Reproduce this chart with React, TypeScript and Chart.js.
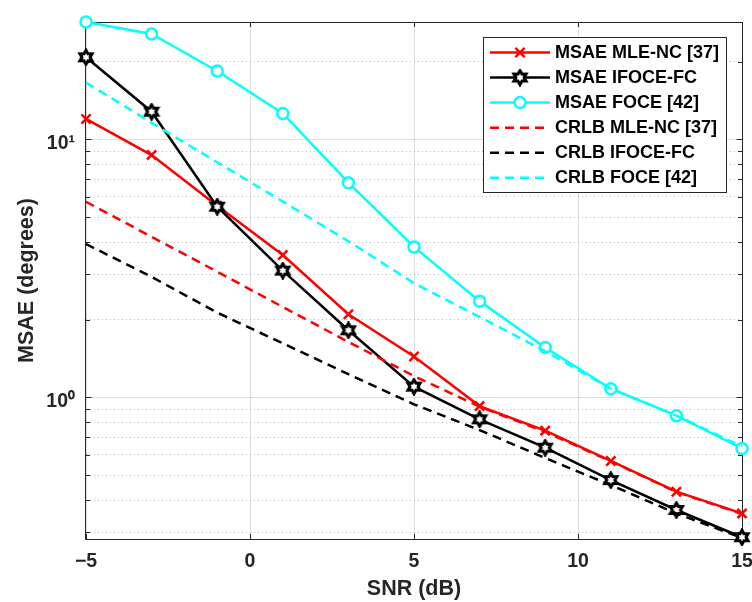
import React, { useEffect, useRef } from 'react';
import { Chart, registerables } from 'chart.js';

Chart.register(...registerables);

// ---------- data ----------
const SNR_DB = [-5, -3, -1, 1, 3, 5, 7, 9, 11, 13, 15];
const MSAE_MLE_NC = [12.0, 8.69, 5.53, 3.56, 2.1, 1.44, 0.925, 0.743, 0.567, 0.431, 0.355];
const MSAE_IFOCE_FC = [20.8, 12.8, 5.48, 3.1, 1.82, 1.1, 0.822, 0.638, 0.478, 0.366, 0.287];
const MSAE_FOCE = [28.5, 25.6, 18.4, 12.6, 6.79, 3.83, 2.36, 1.56, 1.08, 0.849, 0.634];
const CRLB_MLE_NC = [5.73, 4.19, 3.07, 2.24, 1.64, 1.21, 0.92, 0.735, 0.565, 0.43, 0.353];
const CRLB_IFOCE_FC = [3.93, 2.93, 2.13, 1.62, 1.23, 0.94, 0.747, 0.582, 0.457, 0.355, 0.285];
const CRLB_FOCE = [16.6, 11.6, 8.15, 5.74, 4.03, 2.77, 2.05, 1.51, 1.08, 0.85, 0.645];

const SERIES_LABELS = [
  'MSAE MLE-NC [37]',
  'MSAE IFOCE-FC',
  'MSAE FOCE [42]',
  'CRLB MLE-NC [37]',
  'CRLB IFOCE-FC',
  'CRLB FOCE [42]',
];

const X_MIN = -5;
const X_MAX = 15;
const X_TICKS = [-5, 0, 5, 10, 15];
const Y_MIN = 0.2825;
const Y_MAX = 28.5;
const Y_TICKS = [0.3, 0.4, 0.5, 0.6, 0.7, 0.8, 0.9, 1, 2, 3, 4, 5, 6, 7, 8, 9, 10, 20];
const Y_MAJOR = [1, 10];
const Y_MAJOR_LABELS = ['10\u2070', '10\u00b9'];

const X_TITLE = 'SNR (dB)';
const Y_TITLE = 'MSAE (degrees)';

// ---------- styles ----------
const FONT = "'Liberation Sans', Arial, Helvetica, sans-serif";
const AXIS_COLOR = '#262626';
const MAJOR_GRID = 'rgba(38,38,38,0.15)';
const MINOR_GRID = 'rgba(38,38,38,0.3)';
const RED = '#ff0000';
const BLACK = '#000000';
const CYAN = '#00ffff';

function makeHexagram(): HTMLCanvasElement {
  const c = document.createElement('canvas');
  c.width = 18;
  c.height = 18;
  const g = c.getContext('2d')!;
  const cx = 9, cy = 9, R = 7, r = 7 / Math.sqrt(3);
  g.beginPath();
  for (let i = 0; i < 12; i++) {
    const a = -Math.PI / 2 + (i * Math.PI) / 6;
    const rad = i % 2 === 0 ? R : r;
    const x = cx + rad * Math.cos(a);
    const y = cy + rad * Math.sin(a);
    if (i === 0) g.moveTo(x, y);
    else g.lineTo(x, y);
  }
  g.closePath();
  g.fillStyle = '#ffffff';
  g.fill();
  g.lineWidth = 3;
  g.lineJoin = 'miter';
  g.strokeStyle = BLACK;
  g.stroke();
  return c;
}

const isMajorY = (v: number) => Y_MAJOR.some((m) => Math.abs(m - v) < 1e-9);

const boxPlugin = {
  id: 'matlabBox',
  beforeDatasetsDraw(chart: any) {
    const { ctx, chartArea } = chart;
    const { left, right, top, bottom } = chartArea;
    const xs = chart.scales.x;
    const ys = chart.scales.y;
    ctx.save();
    ctx.strokeStyle = AXIS_COLOR;
    ctx.lineWidth = 1;
    ctx.beginPath();
    ctx.rect(Math.round(left) - 0.5, Math.round(top) + 0.5, Math.round(right - left) + 1, Math.round(bottom - top));
    ctx.stroke();
    ctx.beginPath();
    for (const v of X_TICKS) {
      const px = Math.round(xs.getPixelForValue(v)) + 0.5;
      ctx.moveTo(px, bottom);
      ctx.lineTo(px, bottom - 5);
      ctx.moveTo(px, top);
      ctx.lineTo(px, top + 5);
    }
    for (const v of Y_TICKS) {
      const py = Math.round(ys.getPixelForValue(v)) + 0.5;
      const len = isMajorY(v) ? 5.5 : 4;
      ctx.moveTo(left, py);
      ctx.lineTo(left + len, py);
      ctx.moveTo(right, py);
      ctx.lineTo(right - len, py);
    }
    ctx.stroke();
    ctx.restore();
  },
  afterDraw(chart: any) {
    const { ctx } = chart;
    const bx = 483.5, by = 37.5, bw = 243, bh = 155;
    ctx.save();
    ctx.fillStyle = '#ffffff';
    ctx.fillRect(bx, by, bw, bh);
    ctx.strokeStyle = AXIS_COLOR;
    ctx.lineWidth = 1;
    ctx.strokeRect(bx, by, bw, bh);
    chart.data.datasets.forEach((ds: any, i: number) => {
      const y = 52.5 + i * 25.05;
      const x0 = 490, x1 = 550, xm = 520;
      ctx.save();
      ctx.strokeStyle = ds.borderColor;
      ctx.lineWidth = ds.borderWidth;
      ctx.setLineDash(ds.borderDash || []);
      ctx.beginPath();
      ctx.moveTo(x0, y);
      ctx.lineTo(x1, y);
      ctx.stroke();
      ctx.setLineDash([]);
      if (ds.pointRadius > 0) {
        const ps = ds.pointStyle;
        if (ps instanceof HTMLCanvasElement) {
          ctx.drawImage(ps, xm - ps.width / 2, y - ps.height / 2);
        } else if (ps === 'circle') {
          ctx.beginPath();
          ctx.arc(xm, y, ds.pointRadius, 0, Math.PI * 2);
          ctx.fillStyle = ds.pointBackgroundColor;
          ctx.fill();
          ctx.lineWidth = ds.pointBorderWidth;
          ctx.strokeStyle = ds.pointBorderColor;
          ctx.stroke();
        } else if (ps === 'crossRot') {
          const d = ds.pointRadius * Math.SQRT1_2;
          ctx.beginPath();
          ctx.moveTo(xm - d, y - d);
          ctx.lineTo(xm + d, y + d);
          ctx.moveTo(xm - d, y + d);
          ctx.lineTo(xm + d, y - d);
          ctx.lineWidth = ds.pointBorderWidth;
          ctx.strokeStyle = ds.pointBorderColor;
          ctx.stroke();
        }
      }
      ctx.restore();
      ctx.fillStyle = '#000000';
      ctx.font = `bold 18px ${FONT}`;
      ctx.textBaseline = 'middle';
      ctx.textAlign = 'left';
      ctx.fillText(SERIES_LABELS[i], 555, y + 0.5);
    });
    ctx.restore();
  },
};

export default function App() {
  const ref = useRef<HTMLCanvasElement | null>(null);

  useEffect(() => {
    document.body.style.margin = '0';
    if (!ref.current) return;
    const hex = makeHexagram();
    const pts = (arr: number[]) => SNR_DB.map((x, i) => ({ x, y: arr[i] }));
    const solid = (label: string, arr: number[], color: string, extra: any) => ({
      label,
      data: pts(arr),
      borderColor: color,
      backgroundColor: color,
      borderWidth: 2.5,
      fill: false,
      tension: 0,
      clip: false,
      pointBorderColor: color,
      ...extra,
    });
    const dashed = (label: string, arr: number[], color: string) => ({
      label,
      data: pts(arr),
      borderColor: color,
      backgroundColor: color,
      borderWidth: 2.5,
      borderDash: [9, 6],
      fill: false,
      tension: 0,
      clip: false,
      pointRadius: 0,
      pointHoverRadius: 0,
    });
    const datasets: any[] = [
      solid(SERIES_LABELS[0], MSAE_MLE_NC, RED, {
        pointStyle: 'crossRot', pointRadius: 6.5, pointBorderWidth: 2.5, pointBackgroundColor: RED,
      }),
      solid(SERIES_LABELS[1], MSAE_IFOCE_FC, BLACK, {
        pointStyle: hex, pointRadius: 7, pointBorderWidth: 2, pointBackgroundColor: '#ffffff',
      }),
      solid(SERIES_LABELS[2], MSAE_FOCE, CYAN, {
        pointStyle: 'circle', pointRadius: 5.5, pointBorderWidth: 2.5, pointBackgroundColor: '#ffffff',
      }),
      dashed(SERIES_LABELS[3], CRLB_MLE_NC, RED),
      dashed(SERIES_LABELS[4], CRLB_IFOCE_FC, BLACK),
      dashed(SERIES_LABELS[5], CRLB_FOCE, CYAN),
    ];
    datasets.forEach((d, i) => (d.order = datasets.length - 1 - i));

    const tickFont = { family: FONT, size: 19.5, weight: 'bold' as const };
    const titleFont = { family: FONT, size: 21.5, weight: 'bold' as const };

    const chart = new Chart(ref.current, {
      type: 'line',
      data: { datasets },
      plugins: [boxPlugin],
      options: {
        responsive: false,
        animation: false,
        devicePixelRatio: 1,
        events: [],
        layout: { padding: { top: 22, right: 10, left: 0, bottom: 0 } },
        plugins: { legend: { display: false }, tooltip: { enabled: false } },
        scales: {
          x: {
            type: 'linear',
            min: X_MIN,
            max: X_MAX,
            afterBuildTicks: (s: any) => {
              s.ticks = X_TICKS.map((v) => ({ value: v }));
            },
            afterFit: (s: any) => {
              s.height = 63;
              s.paddingLeft = 0;
              s.paddingRight = 0;
            },
            grid: { color: MAJOR_GRID, lineWidth: 1, drawTicks: false },
            border: { display: false },
            ticks: {
              padding: 11,
              font: tickFont,
              color: AXIS_COLOR,
              maxRotation: 0,
              autoSkip: false,
              callback: (v: any) => (v < 0 ? '\u2212' + Math.abs(v) : String(v)),
            },
            title: {
              display: true,
              text: X_TITLE,
              font: titleFont,
              color: AXIS_COLOR,
              padding: { top: 0, bottom: 0 },
            },
          },
          y: {
            type: 'logarithmic',
            min: Y_MIN,
            max: Y_MAX,
            afterBuildTicks: (s: any) => {
              s.ticks = Y_TICKS.map((v) => ({ value: v, major: isMajorY(v) }));
            },
            afterFit: (s: any) => {
              s.width = 86;
              s.paddingTop = 0;
              s.paddingBottom = 0;
            },
            grid: {
              drawTicks: false,
              lineWidth: 1,
              color: (ctx: any) => (ctx.tick && isMajorY(ctx.tick.value) ? MAJOR_GRID : MINOR_GRID),
            },
            border: {
              display: false,
              dash: (ctx: any) => (ctx.tick && !isMajorY(ctx.tick.value) ? [1, 3] : []),
            },
            ticks: {
              padding: 11,
              labelOffset: 4,
              font: tickFont,
              color: AXIS_COLOR,
              autoSkip: false,
              callback: (v: any) => {
                const idx = Y_MAJOR.findIndex((m) => Math.abs(m - v) < 1e-9);
                return idx >= 0 ? Y_MAJOR_LABELS[idx] : '';
              },
            },
            title: {
              display: true,
              text: Y_TITLE,
              font: titleFont,
              color: AXIS_COLOR,
              padding: { top: 14, bottom: 0 },
            },
          },
        },
      } as any,
    });
    return () => chart.destroy();
  }, []);

  return (
    <div style={{ width: 752, height: 602, background: '#ffffff' }}>
      <canvas ref={ref} width={752} height={602} style={{ display: 'block' }} />
    </div>
  );
}
